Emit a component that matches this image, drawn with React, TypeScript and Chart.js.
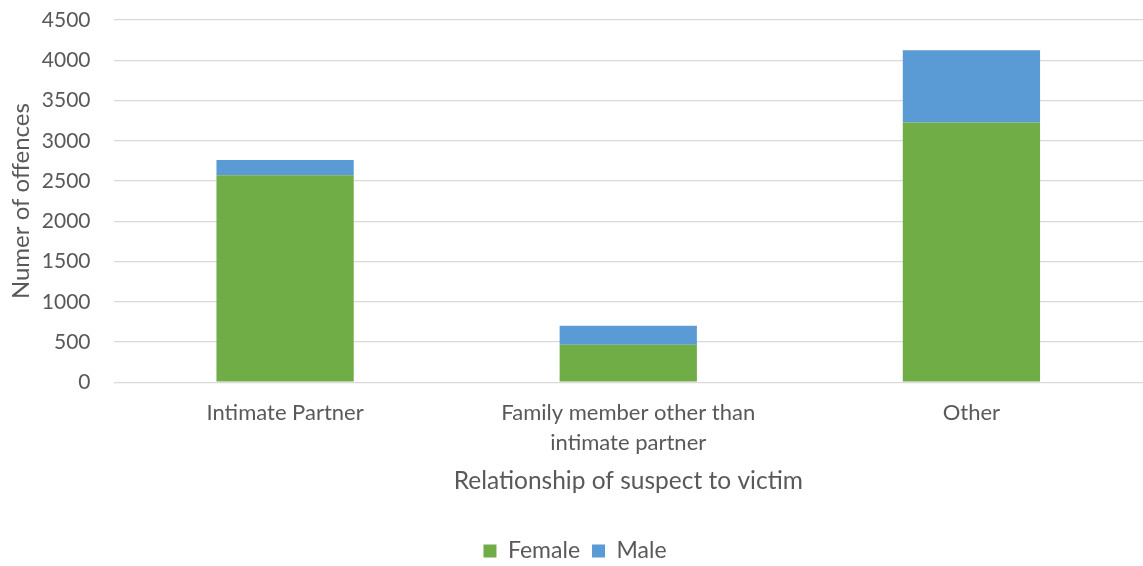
import React, { useEffect, useRef } from "react";
import { Chart, registerables } from "chart.js";

Chart.register(...registerables);

const categories: (string | string[])[] = [
  "Intimate Partner",
  ["Family member other than", "intimate partner"],
  "Other",
];
const femaleValues = [2570, 467, 3227];
const maleValues = [191, 236, 896];
const yMin = 0;
const yMax = 4500;
const yStep = 500;

const TEXT = "#595959";
const FONT = "Lato, 'Open Sans', sans-serif";

export default function App() {
  const ref = useRef<HTMLCanvasElement | null>(null);
  useEffect(() => {
    if (!ref.current) return;
    const chart = new Chart(ref.current, {
      type: "bar",
      data: {
        labels: categories,
        datasets: [
          { label: "Female", data: femaleValues, backgroundColor: "#70AD47", borderWidth: 0 },
          { label: "Male", data: maleValues, backgroundColor: "#5B9BD5", borderWidth: 0 },
        ],
      },
      options: {
        animation: false,
        responsive: true,
        maintainAspectRatio: false,
        layout: { padding: { top: 20, left: 7, right: 0, bottom: -6.5 } },
        datasets: { bar: { categoryPercentage: 1, barPercentage: 0.4 } },
        plugins: {
          legend: {
            position: "bottom",
            labels: {
              boxWidth: 13,
              boxHeight: 13,
              color: TEXT,
              font: { family: FONT, size: 23 },
              padding: 12,
            },
          },
          tooltip: { enabled: false },
        },
        scales: {
          x: {
            stacked: true,
            grid: { display: false, drawTicks: false },
            border: { display: false },
            ticks: {
              color: TEXT,
              font: { family: FONT, size: 22, lineHeight: 1.36 },
              maxRotation: 0,
              padding: 15.5,
            },
            title: {
              display: true,
              text: "Relationship of suspect to victim",
              color: TEXT,
              font: { family: FONT, size: 24.5 },
              padding: { top: -6.7, bottom: 31.7 },
            },
          },
          y: {
            stacked: true,
            min: yMin,
            max: yMax,
            grid: {
              color: "#d9d9d9",
              lineWidth: 1.3,
              drawTicks: true,
              tickLength: 23,
              tickColor: "rgba(0,0,0,0)",
            },
            border: { display: false },
            ticks: {
              stepSize: yStep,
              color: TEXT,
              font: { family: FONT, size: 21 },
              padding: 0,
              callback: (v: any) => String(v),
            },
            title: {
              display: true,
              text: "Numer of offences",
              color: TEXT,
              font: { family: FONT, size: 24 },
              padding: { top: 0, bottom: 6 },
            },
          },
        },
      },
    });
    return () => chart.destroy();
  }, []);
  return (
    <div style={{ position: "absolute", left: 0, top: 0, width: 1143, height: 566 }}>
      <canvas ref={ref} />
    </div>
  );
}
